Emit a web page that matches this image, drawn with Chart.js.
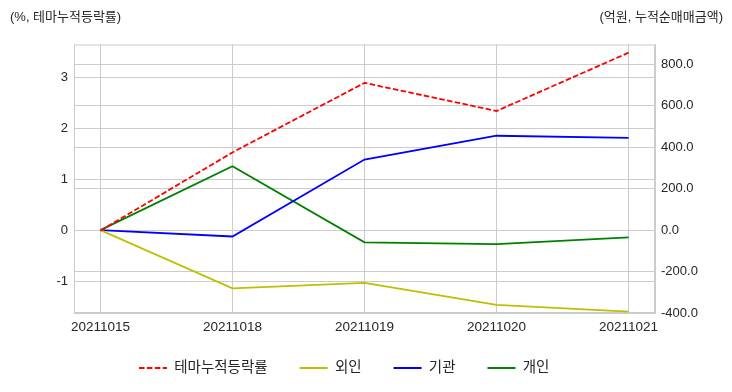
<!DOCTYPE html>
<html>
<head>
<meta charset="utf-8">
<script src="https://cdn.jsdelivr.net/npm/chart.js@4.4.0/dist/chart.umd.min.js"></script>
<style>
  html, body { margin: 0; padding: 0; background: #fff; }
  canvas { display: block; }
</style>
</head>
<body>
<canvas id="chart" width="732" height="392"></canvas>
<script>
// --- Data ---
const dates = ["20211015", "20211018", "20211019", "20211020", "20211021"];
const themeRate = [0, 1.53, 2.89, 2.34, 3.48];      // 테마누적등락률 (%)
const foreignNet = [0, -281, -255, -361, -393];      // 외인 (억원)
const institutionNet = [0, -31, 340, 455, 445];      // 기관 (억원)
const individualNet = [0, 308, -59, -68, -35];       // 개인 (억원)
const seriesNames = ["테마누적등락률", "외인", "기관", "개인"];
const leftTitle = "(%, 테마누적등락률)";
const rightTitle = "(억원, 누적순매매금액)";

const FONT = "'Liberation Sans', 'Noto Sans CJK KR', sans-serif";
const TEXT = "#262626";
const GRID = "#cccccc";
const LEGEND_FONT = 14.5;
const LEGEND_PAD = 32;

const toPoints = arr => arr.map((v, i) => ({ x: i, y: v }));

function lineSet(label, values, color, axis, dash) {
    return {
        label: label,
        data: toPoints(values),
        yAxisID: axis,
        borderColor: color,
        backgroundColor: color,
        borderWidth: 1.8,
        borderDash: dash || [],
        pointRadius: 0,
        pointHoverRadius: 0,
        tension: 0,
        fill: false
    };
}

// --- Extras: frame, titles, legend placement ---
const extras = {
    id: "extras",
    afterLayout(chart) {
        // legend box is clipped when drawn, so give it the whole bottom strip
        const lg = chart.legend;
        lg.left = 139 - LEGEND_PAD;
        lg.right = 732;
        lg.top = 368 - LEGEND_FONT / 2 - LEGEND_PAD;
        lg.bottom = 392;
    },
    beforeDatasetsDraw(chart) {
        const a = chart.chartArea;
        const c = chart.ctx;
        c.save();
        c.strokeStyle = GRID;
        c.lineWidth = 1;
        c.strokeRect(a.left + 0.5, a.top + 0.5, a.right - a.left - 1, a.bottom - a.top - 1);
        c.restore();
    },
    afterDraw(chart) {
        const c = chart.ctx;
        c.save();
        c.fillStyle = TEXT;
        c.font = "13px " + FONT;
        c.textBaseline = "middle";
        c.textAlign = "left";
        c.fillText(leftTitle, 10, 17.5);
        c.textAlign = "right";
        c.fillText(rightTitle, 723, 17.5);
        c.restore();
    }
};

// --- Chart ---
const ctx = document.getElementById("chart").getContext("2d");
new Chart(ctx, {
    type: "line",
    data: {
        datasets: [
            lineSet(seriesNames[0], themeRate, "#ff0000", "yL", [5.5, 2.4]),
            lineSet(seriesNames[1], foreignNet, "#bfbf00", "yR"),
            lineSet(seriesNames[2], institutionNet, "#0000ff", "yR"),
            lineSet(seriesNames[3], individualNet, "#008000", "yR")
        ]
    },
    options: {
        responsive: false,
        animation: false,
        layout: { padding: { left: 0, right: 0, top: 44.5, bottom: 9 } },
        plugins: {
            legend: {
                position: "bottom",
                align: "start",
                maxHeight: 40,
                labels: {
                    usePointStyle: true,
                    pointStyle: "line",
                    pointStyleWidth: 28,
                    padding: LEGEND_PAD,
                    color: TEXT,
                    font: { family: FONT, size: LEGEND_FONT },
                    // keep the dash pattern of each line in its legend sample
                    generateLabels(chart) {
                        const items = Chart.defaults.plugins.legend.labels.generateLabels(chart);
                        items.forEach(it => {
                            const ds = chart.data.datasets[it.datasetIndex];
                            it.lineDash = ds.borderDash;
                            it.lineWidth = ds.borderWidth;
                            it.strokeStyle = ds.borderColor;
                        });
                        return items;
                    }
                }
            },
            tooltip: { enabled: false }
        },
        scales: {
            x: {
                type: "linear",
                min: -0.2,
                max: 4.2,
                afterBuildTicks: s => { s.ticks = dates.map((d, i) => ({ value: i })); },
                afterFit: s => { s.height = 30; },
                grid: { color: GRID, drawTicks: false },
                border: { color: GRID },
                ticks: {
                    padding: 6,
                    color: TEXT,
                    font: { family: FONT, size: 13.5 },
                    maxRotation: 0,
                    callback: v => dates[v]
                }
            },
            yL: {
                type: "linear",
                position: "left",
                min: -1.61,
                max: 3.64,
                afterFit: s => { s.width = 74; },
                grid: { color: GRID, drawTicks: false },
                border: { color: GRID },
                ticks: {
                    stepSize: 1,
                    includeBounds: false,
                    padding: 6,
                    color: TEXT,
                    font: { family: FONT, size: 13 },
                    callback: v => String(v)
                }
            },
            yR: {
                type: "linear",
                position: "right",
                min: -400,
                max: 895,
                afterFit: s => { s.width = 77; },
                grid: { color: GRID, drawTicks: false },
                border: { color: GRID },
                ticks: {
                    stepSize: 200,
                    includeBounds: false,
                    padding: 6,
                    color: TEXT,
                    font: { family: FONT, size: 13 },
                    callback: v => v.toFixed(1)
                }
            }
        }
    },
    plugins: [extras]
});
</script>
</body>
</html>
